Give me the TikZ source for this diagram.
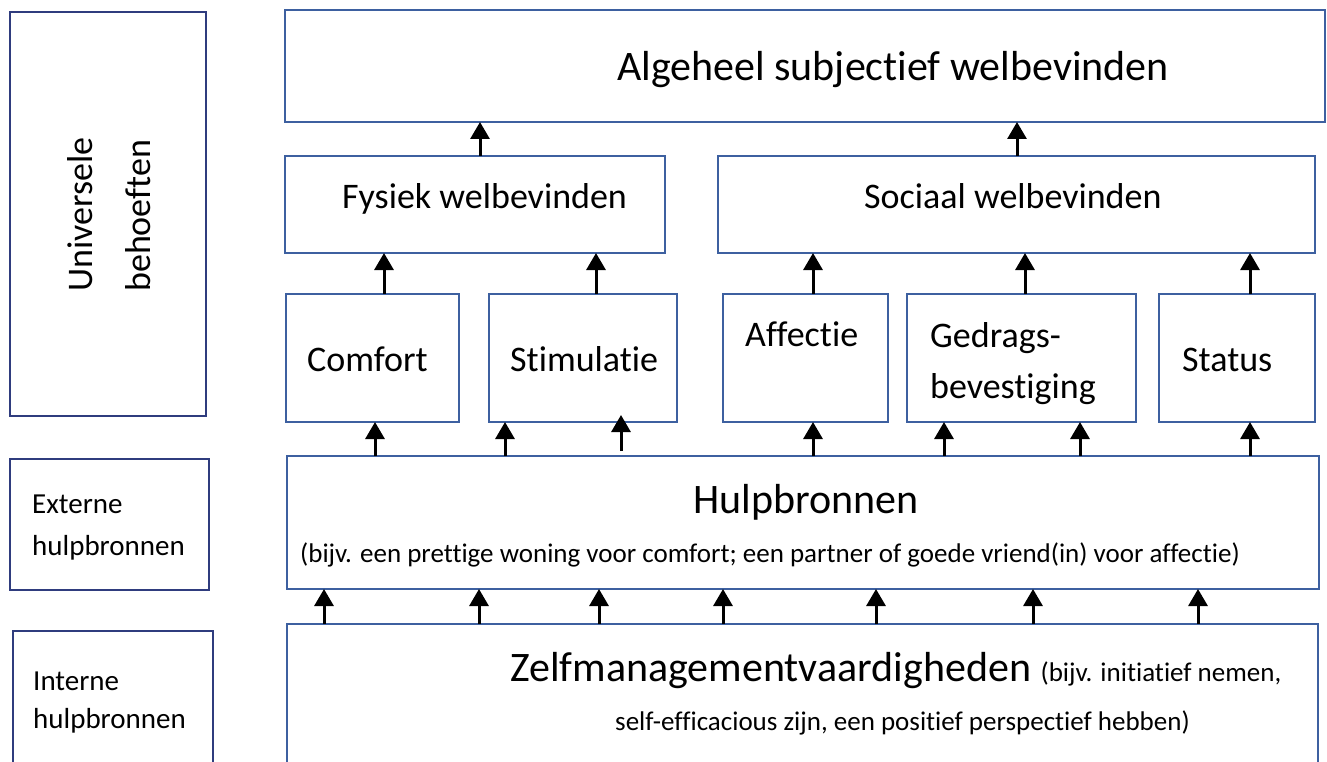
\documentclass[tikz,border=0pt]{standalone}
\usepackage{fontspec}
\setmainfont{Carlito}[Ligatures=CommonOff]
\usetikzlibrary{arrows.meta}
\definecolor{navy}{HTML}{2F3C7E}
\definecolor{boxblue}{HTML}{3D60A0}

\begin{document}
\begin{tikzpicture}[x=1pt, y=-1pt,
      up/.style={-{Triangle[width=19pt,length=17pt]}, line width=3pt},
      big/.style={font=\fontsize{42}{50}\selectfont},
      small/.style={font=\fontsize{27}{32}\selectfont}]
    \tikzstyle{box} = [draw=boxblue, line width=2pt, inner sep=0pt, outer sep=0pt, anchor=north west]
    \tikzstyle{side} = [box, draw=navy]
    \tikzstyle{word} = [anchor=base west, inner sep=0pt, font=\fontsize{36}{42}\selectfont]
    \clip (0,0) rectangle (1327,762);

    % linker kolom
    \node (univ) [side, minimum width=196pt, minimum height=404pt] at (10,12) {};
    \node (ext)  [side, minimum width=199pt, minimum height=131pt] at (10,459) {};
    \node (int)  [side, minimum width=200pt, minimum height=150pt] at (13,631) {};
    \node [word, rotate=90] at (92,292) {Universele};
    \node [word, rotate=90] at (150,292) {behoeften};
    \node [word, font=\fontsize{29}{34}\selectfont] at (32,513) {Externe};
    \node [word, font=\fontsize{29}{34}\selectfont] at (32,555) {hulpbronnen};
    \node [word, font=\fontsize{29}{34}\selectfont] at (33,690) {Interne};
    \node [word, font=\fontsize{29}{34}\selectfont] at (33,728) {hulpbronnen};

    % welbevinden
    \node (alg) [box, minimum width=1040pt, minimum height=112pt] at (285,10) {};
    \node (fys) [box, minimum width=380pt, minimum height=97pt] at (285,156) {};
    \node (soc) [box, minimum width=597pt, minimum height=97pt] at (718,156) {};
    \node [word, big] at (617,81) {Algeheel subjectief welbevinden};
    \node [word] at (342,208) {Fysiek welbevinden};
    \node [word] at (864,208) {Sociaal welbevinden};

    % behoeften
    \node (com) [box, minimum width=173pt, minimum height=128pt] at (286,294) {};
    \node (sti) [box, minimum width=188pt, minimum height=128pt] at (489,294) {};
    \node (aff) [box, minimum width=165pt, minimum height=128pt] at (723,294) {};
    \node (ged) [box, minimum width=229pt, minimum height=128pt] at (907,294) {};
    \node (sta) [box, minimum width=156pt, minimum height=128pt] at (1159,294) {};
    \node [word] at (307,371) {Comfort};
    \node [word] at (510,371) {Stimulatie};
    \node [word] at (745,346) {Affectie};
    \node [word] at (930,347) {Gedrags-};
    \node [word] at (930,398) {bevestiging};
    \node [word] at (1182,371) {Status};

    % hulpbronnen
    \node (hulp) [box, minimum width=1032pt, minimum height=133pt] at (287,456) {};
    \node (zelf) [box, minimum width=1031pt, minimum height=160pt] at (287,624) {};
    \node [word, big] at (693,513) {Hulpbronnen};
    \node [word, small] at (300,562) {(bijv. een prettige woning voor comfort; een partner of goede vriend(in) voor affectie)};
    \node [word, big] at (510,681) {Zelfmanagementvaardigheden {\fontsize{27}{32}\selectfont (bijv. initiatief nemen,}};
    \node [word, small] at (615,730) {self-efficacious zijn, een positief perspectief hebben)};

    % pijlen
    \draw[up] (480,0 |- fys.north) -- (480,0 |- alg.south);
    \draw[up] (1017,0 |- soc.north) -- (1017,0 |- alg.south);
    \draw[up] (384,0 |- com.north) -- (384,0 |- fys.south);
    \draw[up] (596,0 |- sti.north) -- (596,0 |- fys.south);
    \draw[up] (813,0 |- aff.north) -- (813,0 |- soc.south);
    \draw[up] (1025,0 |- ged.north) -- (1025,0 |- soc.south);
    \draw[up] (1250,0 |- sta.north) -- (1250,0 |- soc.south);
    \draw[up] (375,0 |- hulp.north) -- (375,0 |- com.south);
    \draw[up] (505,0 |- hulp.north) -- (505,0 |- sti.south);
    \draw[up] ([yshift=5pt]621,0 |- hulp.north) -- ([yshift=7pt]621,0 |- sti.south);
    \draw[up] (813,0 |- hulp.north) -- (813,0 |- aff.south);
    \draw[up] (944,0 |- hulp.north) -- (944,0 |- ged.south);
    \draw[up] (1080,0 |- hulp.north) -- (1080,0 |- ged.south);
    \draw[up] (1250,0 |- hulp.north) -- (1250,0 |- sta.south);
    \foreach \x in {324,479,599,723,876,1033,1198}
      \draw[up] (\x,0 |- zelf.north) -- (\x,0 |- hulp.south);
\end{tikzpicture}
\end{document}
